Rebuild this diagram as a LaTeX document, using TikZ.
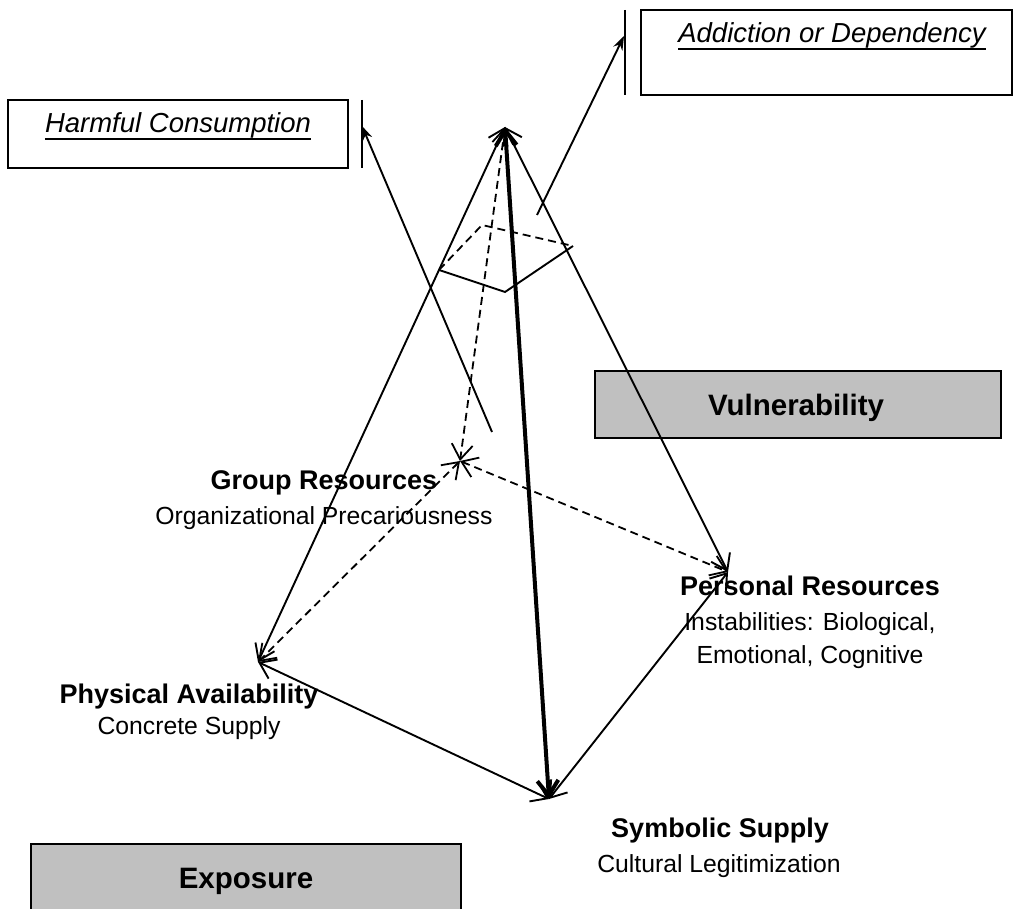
\documentclass[tikz,border=0pt]{standalone}
\usepackage{fontspec}
\setmainfont{Liberation Sans}
\usetikzlibrary{arrows.meta}
\definecolor{boxgray}{RGB}{192,192,192}
\tikzset{
  barb/.tip={Straight Barb[length=15pt,width=21pt]},
  edge/.style={line width=1.9pt, barb-barb},
  thickedge/.style={line width=4pt, barb-barb},
  dashedge/.style={line width=1.8pt, dash pattern=on 8pt off 5pt, barb-barb},
  outarrow/.style={line width=1.9pt, -{Stealth[length=14pt,width=10pt]}},
  plain/.style={line width=1.9pt},
  dashplain/.style={line width=1.8pt, dash pattern=on 8pt off 5pt},
  framebox/.style={line width=2pt},
  head/.style={font=\fontsize{27}{32}\selectfont\bfseries, anchor=base, inner sep=0pt},
  sub/.style={font=\fontsize{24.75}{30}\selectfont, anchor=base, inner sep=0pt},
  titletext/.style={font=\fontsize{29.5}{35}\selectfont\bfseries, anchor=base, inner sep=0pt},
  outcome/.style={font=\fontsize{27.5}{33}\selectfont\itshape, anchor=base, inner sep=0pt},
}
\begin{document}
\begin{tikzpicture}[x=1pt,y=-1pt]
\useasboundingbox (0,0) rectangle (1015,909);
\fill[white] (0,0) rectangle (1015,909);

% boxes
\draw[framebox] (8,100) rectangle (348,168);
\draw[framebox] (641,10) rectangle (1012,95);
\draw[framebox, fill=boxgray] (595,371) rectangle (1001,438);
\begin{scope}
  \clip (0,0) rectangle (1015,909);
  \draw[framebox, fill=boxgray] (31,844) rectangle (461,930);
\end{scope}

% pyramid corners
\coordinate (A) at (505,127);
\coordinate (P) at (258,662);
\coordinate (S) at (549,799);
\coordinate (R) at (728,572);
\coordinate (G) at (460,461);

% cross-section
\coordinate (Q1) at (439,270);
\coordinate (Q2) at (505,292);
\coordinate (Q3) at (573,246);
\coordinate (Q4) at (482,225);
\draw[plain] (Q1) -- (Q2) -- (Q3);
\draw[dashplain] (Q1) -- (Q4) -- (Q3);

% edges
\draw[dashedge] (A) -- (G);
\draw[dashedge] (G) -- (P);
\draw[dashedge] (G) -- (R);
\draw[edge] (A) -- (P);
\draw[edge] (A) -- (R);
\draw[edge] (P) -- (S);
\draw[edge] (R) -- (S);
\draw[thickedge] (A) -- (S);

% outcome arrows and bars
\coordinate (hcstart) at (492,432);
\coordinate (hctip) at (362,126);
\coordinate (hcbartop) at (362,100);
\coordinate (hcbarbot) at (362,168);
\draw[outarrow] (hcstart) -- (hctip);
\draw[plain] (hcbartop) -- (hcbarbot);

\coordinate (adstart) at (537,215);
\coordinate (adtip) at (624,36);
\coordinate (adbartop) at (625,10);
\coordinate (adbarbot) at (625,95);
\draw[outarrow] (adstart) -- (adtip);
\draw[plain] (adbartop) -- (adbarbot);

% texts
\node[outcome] (hc) at (178,133) {Harmful Consumption};
\draw[line width=2pt] ([yshift=-6.5pt]hc.base west) -- ([yshift=-6.5pt]hc.base east);
\node[outcome] (ad) at (832,43) {Addiction or Dependency};
\draw[line width=2pt] ([yshift=-6.5pt]ad.base west) -- ([yshift=-6.5pt]ad.base east);

\node[titletext] (vul) at (796,415) {Vulnerability};
\node[titletext] (exp) at (246,888) {Exposure};

\node[head] (grp) at (324,489) {Group Resources};
\node[sub] (grpsub) at (324,524) {Organizational Precariousness};

\node[head] (pers) at (810,595) {Personal Resources};
\node[sub] (perssub1) at (810,630) {Instabilities: Biological,};
\node[sub] (perssub2) at (810,663) {Emotional, Cognitive};

\node[head] (phys) at (189,703) {Physical Availability};
\node[sub] (physsub) at (189,734) {Concrete Supply};

\node[head] (sym) at (720,837) {Symbolic Supply};
\node[sub] (symsub) at (719,872) {Cultural Legitimization};
\end{tikzpicture}
\end{document}
